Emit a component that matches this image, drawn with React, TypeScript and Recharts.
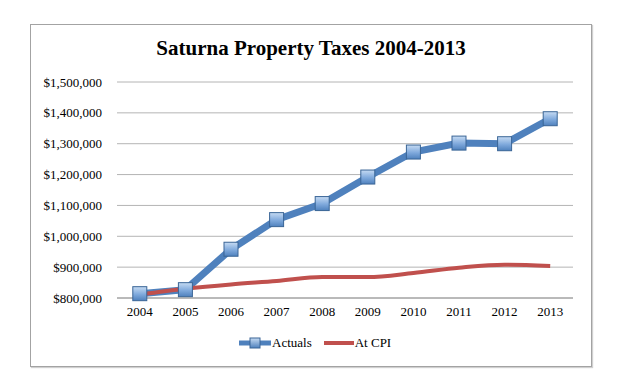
import React from "react";
import { LineChart, Line, XAxis, YAxis, CartesianGrid } from "recharts";

const years = ["2004", "2005", "2006", "2007", "2008", "2009", "2010", "2011", "2012", "2013"];
const actuals = [814000, 827000, 958000, 1054000, 1106000, 1192000, 1273000, 1302000, 1300000, 1381000];
const atCpi = [811000, 830000, 844000, 855000, 868000, 868000, 881000, 898000, 908000, 904000];
const yTicks = [800000, 900000, 1000000, 1100000, 1200000, 1300000, 1400000, 1500000];
const seriesNames = ["Actuals", "At CPI"];
const title = "Saturna Property Taxes 2004-2013";

const data = years.map((y, i) => ({ year: y, actuals: actuals[i], cpi: atCpi[i] }));

const BLUE = "#4F81BD";
const RED = "#C0504D";
const FONT = "'Liberation Serif', 'DejaVu Serif', serif";

const fmt = (v: number) => "$" + v.toLocaleString("en-US");

const SquareDot = (props: any) => {
  const { cx, cy, index } = props;
  if (cx == null || cy == null) return null;
  const s = 14;
  return (
    <rect
      key={"d" + index}
      x={cx - s / 2}
      y={cy - s / 2}
      width={s}
      height={s}
      fill="url(#sqGrad)"
      stroke="#3A6596"
      strokeWidth={1}
    />
  );
};

export default function App() {
  return (
    <div style={{ position: "absolute", left: 0, top: 0, width: 626, height: 378, background: "#fff", fontFamily: FONT }}>
      <div
        style={{
          position: "absolute",
          left: 30,
          top: 24,
          width: 560,
          height: 341,
          border: "1px solid #a3a3a3",
          boxShadow: "1px 1px 1px #d0d0d0",
        }}
      />
      <div
        style={{
          position: "absolute",
          left: 30,
          width: 562,
          top: 36,
          textAlign: "center",
          fontSize: 21,
          fontWeight: "bold",
          color: "#000",
          fontFamily: FONT,
          lineHeight: "24px",
        }}
      >
        {title}
      </div>
      <div style={{ position: "absolute", left: 0, top: 0 }}>
        <LineChart width={626} height={378} data={data} margin={{ top: 82, right: 53, bottom: 50, left: 0 }}>
          <defs>
            <linearGradient id="sqGrad" x1="0" y1="0" x2="0" y2="1">
              <stop offset="0%" stopColor="#C6DBF3" />
              <stop offset="55%" stopColor="#7FA9DC" />
              <stop offset="100%" stopColor="#4F81BD" />
            </linearGradient>
          </defs>
          <CartesianGrid vertical={false} stroke="#b4b4b4" strokeWidth={1} />
          <XAxis
            dataKey="year"
            padding={{ left: 22.8, right: 22.8 }}
            tickLine={false}
            axisLine={{ stroke: "#9a9a9a" }}
            tickSize={0}
            tickMargin={9}
            tick={{ fill: "#000", fontSize: 13, fontFamily: FONT }}
            height={30}
            interval={0}
          />
          <YAxis
            domain={[800000, 1500000]}
            ticks={yTicks}
            tickFormatter={fmt}
            width={117}
            axisLine={false}
            tickLine={false}
            tickSize={0}
            tickMargin={15}
            tick={{ fill: "#000", fontSize: 13, fontFamily: FONT }}
            interval={0}
          />
          <Line
            type="linear"
            dataKey="actuals"
            name={seriesNames[0]}
            stroke={BLUE}
            strokeWidth={7}
            dot={<SquareDot />}
            isAnimationActive={false}
          />
          <Line
            type="monotone"
            dataKey="cpi"
            name={seriesNames[1]}
            stroke={RED}
            strokeWidth={4}
            dot={false}
            isAnimationActive={false}
          />
        </LineChart>
      </div>
      <div
        style={{
          position: "absolute",
          top: 334,
          left: 239,
          display: "flex",
          alignItems: "center",
          fontSize: 13,
          fontFamily: FONT,
          color: "#000",
          lineHeight: "18px",
        }}
      >
        <svg width={32} height={12} style={{ display: "block" }}>
          <line x1={0} y1={6} x2={32} y2={6} stroke={BLUE} strokeWidth={5} />
          <rect x={11} y={1} width={10} height={10} fill="url(#sqGrad2)" stroke="#3A6596" strokeWidth={1} />
          <defs>
            <linearGradient id="sqGrad2" x1="0" y1="0" x2="0" y2="1">
              <stop offset="0%" stopColor="#C6DBF3" />
              <stop offset="100%" stopColor="#4F81BD" />
            </linearGradient>
          </defs>
        </svg>
        <span style={{ marginLeft: 1 }}>{seriesNames[0]}</span>
        <svg width={30} height={12} style={{ display: "block", marginLeft: 12 }}>
          <line x1={0} y1={6} x2={30} y2={6} stroke={RED} strokeWidth={4} />
        </svg>
        <span style={{ marginLeft: 1 }}>{seriesNames[1]}</span>
      </div>
    </div>
  );
}
